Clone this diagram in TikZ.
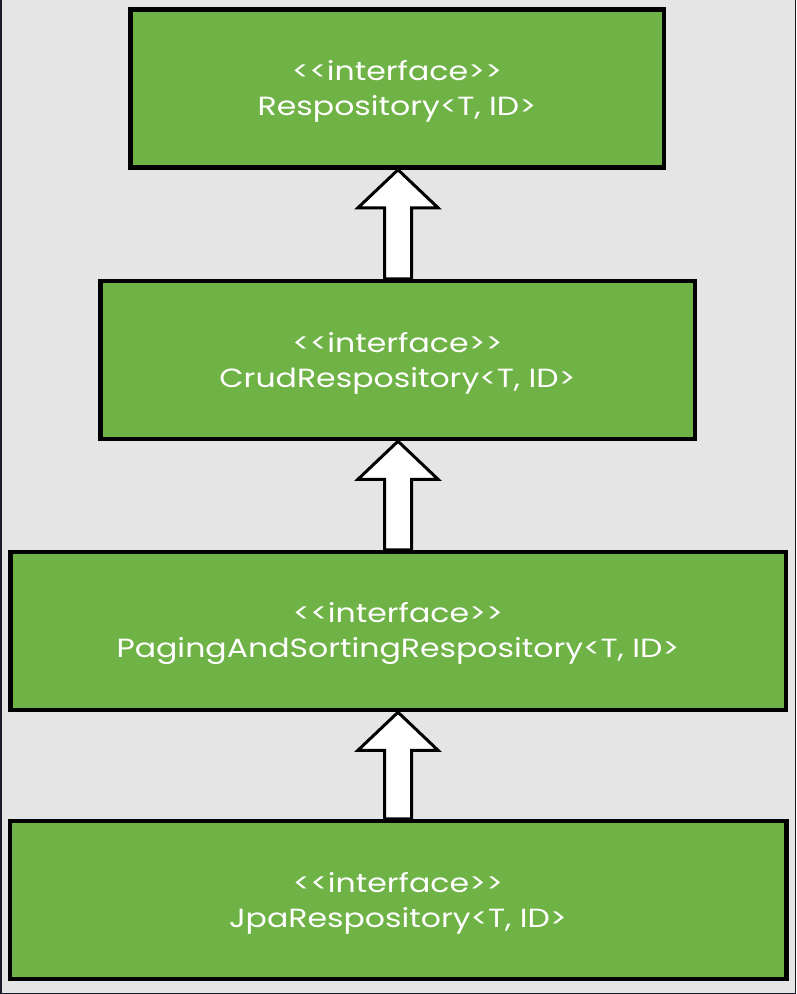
\documentclass[tikz,border=0pt]{standalone}
\usepackage{fontspec}
\setmainfont{Poppins}[FakeStretch=1.2]
\usetikzlibrary{calc}
\definecolor{boxgreen}{HTML}{6FB245}
\definecolor{bgray}{HTML}{E5E5E5}
\definecolor{framec}{HTML}{1C1C28}
\newcommand\ltlt{\rule{0pt}{26pt}<\kern0pt<}
\newcommand\gtgt{>\kern0pt>}
\begin{document}
\begin{tikzpicture}[x=1pt,y=-1pt,
  iface/.style={draw=black, line width=4.5pt, fill=boxgreen, text=white, align=center,
    font=\fontsize{26.3}{35}\selectfont, inner sep=0pt, minimum height=158pt},
  inh/.style={draw=black, line width=3pt, fill=white, line join=miter}]
\fill[bgray] (0,0) rectangle (796,994);
\useasboundingbox (0,0) rectangle (796,994);
\draw[framec, line width=1.5pt] (0.75,0) -- (0.75,993.25) -- (795.25,993.25) -- (795.25,0);
\node[iface, minimum width=533.5pt] (r) at (397,88.5) {\ltlt interface\gtgt\\Respository<T, ID>};
\node[iface, minimum width=594.5pt] (c) at (397.5,360) {\ltlt interface\gtgt\\CrudRespository<T, ID>};
\node[iface, minimum width=775.5pt] (p) at (398,631) {\ltlt interface\gtgt\\PagingAndSortingRespository<T, ID>};
\node[iface, minimum width=776.5pt] (j) at (398,900) {\ltlt interface\gtgt\\JpaRespository<T, ID>};
\foreach \a/\b in {r/c, c/p, p/j}{
  \draw[inh] let \p1=(\a.south), \p2=(\b.north) in
    (398pt,\y1) -- (438pt,\y1-38pt) -- (411.5pt,\y1-38pt) -- (411.5pt,\y2)
    -- (384.5pt,\y2) -- (384.5pt,\y1-38pt) -- (358pt,\y1-38pt) -- cycle;
}
\end{tikzpicture}
\end{document}
